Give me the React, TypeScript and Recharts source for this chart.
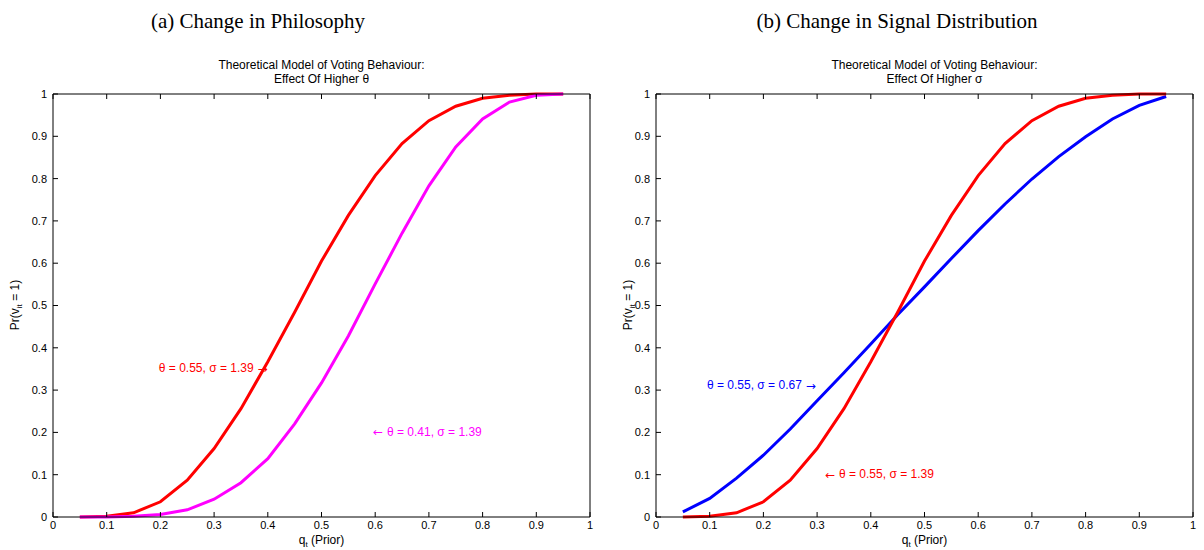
import React from "react";
import {
  LineChart, Line, XAxis, YAxis, ReferenceDot
} from "recharts";

// q_t grid used by the model
const prior = [0.05, 0.1, 0.15, 0.2, 0.25, 0.3, 0.35, 0.4, 0.45, 0.5, 0.55, 0.6, 0.65, 0.7, 0.75, 0.8, 0.85, 0.9, 0.95];

// Pr(v_it = 1)
const baseCase = [0, 0.002, 0.01, 0.036, 0.087, 0.162, 0.256, 0.367, 0.484, 0.605, 0.713, 0.807, 0.883, 0.937, 0.971, 0.99, 0.997, 1, 1];
const lowerTheta = [0, 0, 0.002, 0.006, 0.017, 0.042, 0.081, 0.138, 0.22, 0.317, 0.428, 0.551, 0.671, 0.783, 0.875, 0.941, 0.981, 0.997, 1];
const lowerSigma = [0.012, 0.044, 0.092, 0.146, 0.208, 0.275, 0.341, 0.409, 0.478, 0.544, 0.611, 0.677, 0.74, 0.799, 0.852, 0.899, 0.941, 0.973, 0.994];

const axisTicks = [0, 0.1, 0.2, 0.3, 0.4, 0.5, 0.6, 0.7, 0.8, 0.9, 1];

const SANS = "'Liberation Sans', Arial, Helvetica, sans-serif";
const ARROW_FONT = "'DejaVu Sans', sans-serif";

type Note = { x: number; y: number; text: string; arrow: "left" | "right"; color: string };
type Series = { key: string; color: string; values: number[] };

function tickText(v: number) {
  return String(v);
}

const makeYLabel = (lx: number) => () => (
  <text x={lx} y={305} transform={`rotate(-90, ${lx}, 305)`} textAnchor="middle"
    fontSize={12} fontFamily={SANS} fill="#000">
    Pr(v<tspan fontSize={8} dy={3}>it</tspan><tspan dy={-3}> = 1)</tspan>
  </text>
);

const XLabel = (props: any) => {
  const vb = props.viewBox || {};
  const cx = vb.x + vb.width / 2;
  return (
    <text x={cx} y={544} textAnchor="middle" fontSize={12} fontFamily={SANS} fill="#000">
      q<tspan fontSize={8} dy={3}>t</tspan><tspan dy={-3}> (Prior)</tspan>
    </text>
  );
};

const makeTitle = (second: string, shift: number) => (props: any) => {
  const vb = props.viewBox || {};
  const cx = vb.x + vb.width / 2 + shift;
  return (
    <text textAnchor="middle" fontSize={12} fontFamily={SANS} fill="#000">
      <tspan x={cx} y={69}>Theoretical Model of Voting Behaviour:</tspan>
      <tspan x={cx} y={83}>{second}</tspan>
    </text>
  );
};

function Panel({ series, notes, titleLine, titleShift, yLabelX }:
  { series: Series[]; notes: Note[]; titleLine: string; titleShift: number; yLabelX: number }) {
  const data = prior.map((q, i) => {
    const row: any = { q };
    series.forEach(s => { row[s.key] = s.values[i]; });
    return row;
  });
  const tickStyle = { fontSize: 11, fontFamily: SANS, fill: "#000" };
  const YLabel = makeYLabel(yLabelX);
  return (
    <LineChart width={602} height={550} data={data} margin={{ top: 93, right: 11, bottom: 0, left: 0 }}>
      <XAxis dataKey="q" type="number" domain={[0, 1]} ticks={axisTicks} interval={0}
        tickFormatter={tickText} tick={tickStyle} height={33} tickSize={-5} tickMargin={9}
        axisLine={{ stroke: "#000" }} tickLine={{ stroke: "#000" }} label={<XLabel />} />
      <XAxis xAxisId="top" orientation="top" dataKey="q" type="number" domain={[0, 1]} ticks={axisTicks}
        interval={0} tickFormatter={() => ""} height={1} tickSize={-5}
        axisLine={{ stroke: "#000" }} tickLine={{ stroke: "#000" }} label={makeTitle(titleLine, titleShift)} />
      <YAxis type="number" domain={[0, 1]} ticks={axisTicks} interval={0} tickFormatter={tickText}
        tick={tickStyle} width={53} tickSize={-5} tickMargin={11}
        axisLine={{ stroke: "#000" }} tickLine={{ stroke: "#000" }} label={<YLabel />} />
      <YAxis yAxisId="right" orientation="right" type="number" domain={[0, 1]} ticks={axisTicks}
        interval={0} tickFormatter={() => ""} width={1} tickSize={-5}
        axisLine={{ stroke: "#000" }} tickLine={{ stroke: "#000" }} />
      {series.map(s => (
        <Line key={s.key} dataKey={s.key} stroke={s.color} strokeWidth={3} dot={false}
          type="linear" isAnimationActive={false} />
      ))}
      {notes.map((n, i) => (
        <ReferenceDot key={i} x={n.x} y={n.y} r={0}
          shape={(p: any) => (
            <text x={p.cx} y={p.cy} fontSize={12} fontFamily={SANS} fill={n.color}
              dominantBaseline="middle">
              {n.arrow === "left" ? <tspan fontFamily={ARROW_FONT}>{"\u2190 "}</tspan> : null}
              {n.text}
              {n.arrow === "right" ? <tspan fontFamily={ARROW_FONT}>{" \u2192"}</tspan> : null}
            </text>
          )} />
      ))}
    </LineChart>
  );
}

const titleStyle: React.CSSProperties = {
  position: "absolute", top: 9, textAlign: "center",
  fontFamily: "'Liberation Serif', 'DejaVu Serif', serif", fontSize: 21, color: "#000"
};

export default function App() {
  return (
    <div style={{ position: "absolute", left: 0, top: 0, width: 1204, height: 550, background: "#fff" }}>
      <div style={{ ...titleStyle, left: 0, width: 516 }}>(a) Change in Philosophy</div>
      <div style={{ ...titleStyle, left: 602, width: 590 }}>(b) Change in Signal Distribution</div>
      <div style={{ position: "absolute", left: 0, top: 0 }}>
        <Panel
          titleLine="Effect Of Higher θ"
          titleShift={0}
          yLabelX={19}
          series={[
            { key: "base", color: "#ff0000", values: baseCase },
            { key: "theta", color: "#ff00ff", values: lowerTheta },
          ]}
          notes={[
            { x: 0.197, y: 0.35, text: "θ = 0.55, σ = 1.39", arrow: "right", color: "#ff0000" },
            { x: 0.596, y: 0.2, text: "θ = 0.41, σ = 1.39", arrow: "left", color: "#ff00ff" },
          ]}
        />
      </div>
      <div style={{ position: "absolute", left: 603, top: 0 }}>
        <Panel
          titleLine="Effect Of Higher σ"
          titleShift={10}
          yLabelX={29}
          series={[
            { key: "sigma", color: "#0000ff", values: lowerSigma },
            { key: "base", color: "#ff0000", values: baseCase },
          ]}
          notes={[
            { x: 0.095, y: 0.31, text: "θ = 0.55, σ = 0.67", arrow: "right", color: "#0000ff" },
            { x: 0.315, y: 0.1, text: "θ = 0.55, σ = 1.39", arrow: "left", color: "#ff0000" },
          ]}
        />
      </div>
    </div>
  );
}
